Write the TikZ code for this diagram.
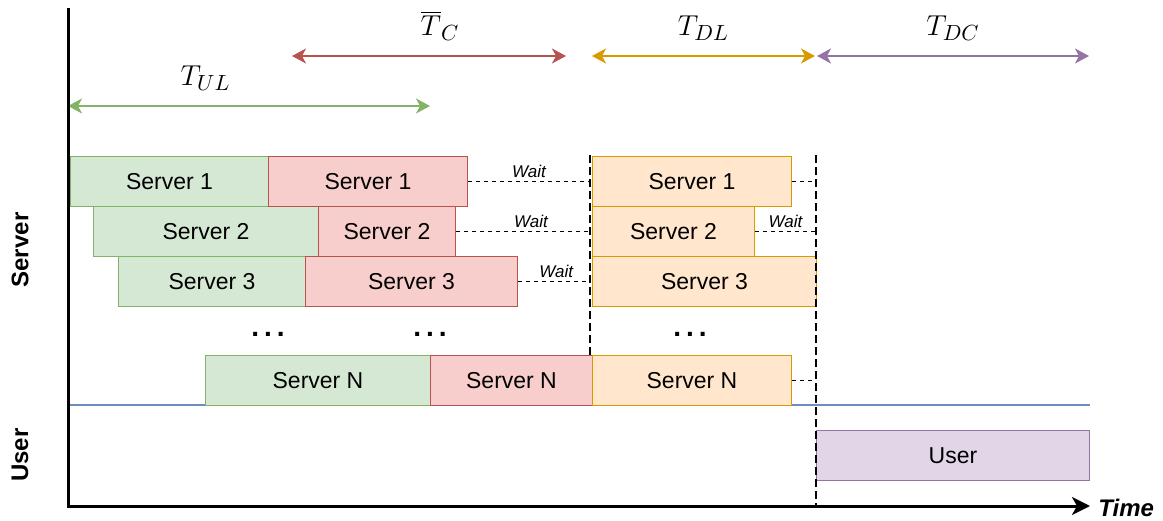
\documentclass[tikz,border=0pt]{standalone}
\usepackage{fontspec}
\setmainfont{Liberation Sans}
\usetikzlibrary{arrows.meta}

\definecolor{ulfill}{HTML}{D5E8D4}
\definecolor{ulline}{HTML}{82B366}
\definecolor{cfill}{HTML}{F8CECC}
\definecolor{cline}{HTML}{B85450}
\definecolor{dlfill}{HTML}{FFE6CC}
\definecolor{dlline}{HTML}{D79B00}
\definecolor{dcfill}{HTML}{E1D5E7}
\definecolor{dcline}{HTML}{9673A6}
\definecolor{laneline}{HTML}{6C8EBF}

\def \tipSize {7pt}

\tikzset{
  slot/.style={draw, line width=0.5pt, anchor=north west, minimum height=25pt,
    inner sep=0pt, font=\fontsize{11.5}{13}\selectfont},
  boxw/.style={minimum width=#1*0.5pt},
  ulslot/.style={slot, fill=ulfill, draw=ulline},
  cslot/.style={slot, fill=cfill, draw=cline},
  dlslot/.style={slot, fill=dlfill, draw=dlline},
  dcslot/.style={slot, fill=dcfill, draw=dcline},
  waitline/.style={line width=0.5pt, dash pattern=on 2pt off 2pt},
  waitlabel/.style={above, inner sep=1.5pt, font=\itshape\fontsize{8.5}{10}\selectfont},
  sync/.style={line width=1pt, dash pattern=on 4pt off 2pt},
  phase/.style={line width=1pt,
    {Stealth[length=\tipSize,width=7.5pt,inset=2pt]}-{Stealth[length=\tipSize,width=7.5pt,inset=2pt]}},
  phaselabel/.style={above=4pt, font=\fontsize{15}{18}\selectfont},
  dots/.style={font=\bfseries\fontsize{14}{16}\selectfont},
  lane/.style={rotate=90, font=\bfseries\fontsize{12}{14}\selectfont}
}

\begin{document}
\begin{tikzpicture}[x=0.5pt, y=-0.5pt]
  \useasboundingbox (0,0) rectangle (1163,520);

  % axes corners
  \coordinate (ytop) at (68,8);
  \coordinate (origin) at (68,506);
  \coordinate (xend) at (1090,506);

  % lane separator
  \coordinate (laneL) at (68,405);
  \coordinate (laneR) at (1090,405);
  \draw[laneline, line width=0.6pt] (laneL) -- (laneR);

  % uplink
  \node[ulslot, boxw=198] (ul1) at (70,156) {Server 1};
  \node[ulslot, boxw=225] (ul2) at (93,206) {Server 2};
  \node[ulslot, boxw=187] (ul3) at (118,256) {Server 3};
  \node[ulslot, boxw=225] (ulN) at (205,355) {Server N};

  % computation
  \node[cslot, boxw=199] (c1) at (268,156) {Server 1};
  \node[cslot, boxw=137] (c2) at (318,206) {Server 2};
  \node[cslot, boxw=212] (c3) at (305,256) {Server 3};
  \node[cslot, boxw=162] (cN) at (430,355) {Server N};

  % downlink
  \node[dlslot, boxw=199] (dl1) at (592,156) {Server 1};
  \node[dlslot, boxw=162] (dl2) at (592,206) {Server 2};
  \node[dlslot, boxw=224] (dl3) at (592,256) {Server 3};
  \node[dlslot, boxw=199] (dlN) at (592,355) {Server N};

  % user side
  \node[dcslot, boxw=273] (user) at (816,430) {User};

  \node[dots] (dotsUL) at (268,334) {.\kern2.5pt.\kern2.5pt.};
  \node[dots] (dotsC) at (430,334) {.\kern2.5pt.\kern2.5pt.};
  \node[dots] (dotsDL) at (690,334) {.\kern2.5pt.\kern2.5pt.};

  % sync lines
  \coordinate (syncAtop) at (590,155);
  \coordinate (syncAbot) at (590,355);
  \coordinate (syncBtop) at (816,155);
  \coordinate (syncBbot) at (816,506);
  \draw[sync] (syncAtop) -- (syncAbot);
  \draw[sync] (syncBtop) -- (syncBbot);

  % waiting
  \draw[waitline] (c1.east) -- (c1.east -| syncAtop) node[waitlabel, midway] {Wait};
  \draw[waitline] (c2.east) -- (c2.east -| syncAtop) node[waitlabel, pos=0.56] {Wait};
  \draw[waitline] (c3.east) -- (c3.east -| syncAtop) node[waitlabel, pos=0.53] {Wait};
  \draw[waitline] (dl1.east) -- (dl1.east -| syncBtop);
  \draw[waitline] (dl2.east) -- (dl2.east -| syncBtop) node[waitlabel, midway] {Wait};
  \draw[waitline] (dlN.east) -- (dlN.east -| syncBtop);

  % phases
  \coordinate (ulA) at (68,106);
  \coordinate (ulB) at (430,106);
  \coordinate (cA) at (292,56);
  \coordinate (cB) at (566,56);
  \coordinate (dlA) at (592,56);
  \coordinate (dlB) at (815,56);
  \coordinate (dcA) at (817,56);
  \coordinate (dcB) at (1089,56);
  \draw[phase, ulline] (ulA) -- (ulB) node[phaselabel, pos=0.38, text=black] {$T_{UL}$};
  \draw[phase, cline] (cA) -- (cB) node[phaselabel, pos=0.54, text=black] {$\overline{T}_{C}$};
  \draw[phase, dlline] (dlA) -- (dlB) node[phaselabel, midway, text=black] {$T_{DL}$};
  \draw[phase, dcline] (dcA) -- (dcB) node[phaselabel, midway, text=black] {$T_{DC}$};

  % axes
  \draw[line width=1.5pt, -{Stealth[length=9pt,width=9pt,inset=2.5pt]}] (ytop) -- (origin) -- (xend);
  \node[anchor=west, inner sep=0pt, font=\bfseries\itshape\fontsize{12}{14}\selectfont] (time) at (1098,508) {Time};
  \node[lane] (serverlane) at (20,250) {Server};
  \node[lane] (userlane) at (20,455) {User};
\end{tikzpicture}
\end{document}
